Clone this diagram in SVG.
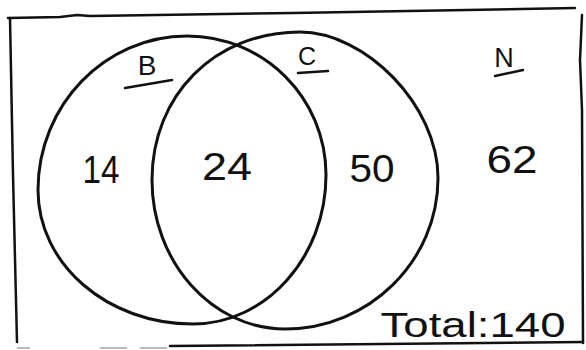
<svg xmlns="http://www.w3.org/2000/svg" width="586" height="350" viewBox="0 0 586 350">
  <style>
    .pen { fill: none; stroke: #111; stroke-width: 3; stroke-linecap: round; stroke-linejoin: round; }
    .frame { fill: none; stroke: #111; stroke-width: 2.5; stroke-linecap: round; stroke-linejoin: round; }
    .faint { fill: none; stroke: #bbb; stroke-width: 2; }
    .lbl { font-family: "Liberation Sans", Arial, sans-serif; fill: #111; text-anchor: middle; }
  </style>
  <rect width="586" height="350" fill="#fff"/>
  <g id="frame">
    <path class="frame" d="M8,18 L60,17 L77,15 L90,16 L293,13 L575,8"/>
    <path class="frame" d="M10,18 L13,175 L17,342"/>
    <path class="frame" d="M582,15 L580,60 L582,110 L583,343"/>
    <path class="frame" d="M170,346 L583,342"/>
    <path class="faint" d="M17,348 H30 M100,348 H127 M140,348 H167"/>
  </g>
  <g id="set-B">
    <path class="pen" d="M187,36 C264,36 326,98 326,175 C326,257 266,324 193,324 C107,324 38,264 38,190 C38,105 105,36 187,36 Z"/>
    <text class="lbl" x="147" y="75" font-size="28">B</text>
    <path class="frame" d="M125,88 L172,80" stroke-width="3"/>
  </g>
  <g id="set-C">
    <path class="pen" d="M300,32 C365,32 438,105 438,178 C438,261 369,329 285,329 C212,329 152,262 152,180 C152,95 215,32 300,32 Z"/>
    <text class="lbl" x="307" y="65" font-size="25">C</text>
    <path class="frame" d="M298,73 L328,71" stroke-width="3"/>
  </g>
  <g id="set-N">
    <text class="lbl" x="504" y="67" font-size="27">N</text>
    <path class="frame" d="M495,76 L523,70" stroke-width="3"/>
  </g>
  <g id="counts">
    <text class="lbl" x="101" y="183" font-size="38" textLength="37" lengthAdjust="spacingAndGlyphs">14</text>
    <text class="lbl" x="227" y="180" font-size="38" textLength="50" lengthAdjust="spacingAndGlyphs">24</text>
    <text class="lbl" x="372" y="182" font-size="38" textLength="45" lengthAdjust="spacingAndGlyphs">50</text>
    <text class="lbl" x="512" y="173" font-size="38" textLength="51" lengthAdjust="spacingAndGlyphs">62</text>
  </g>
  <g id="total">
    <text class="lbl" x="473" y="337" font-size="35" textLength="185" lengthAdjust="spacingAndGlyphs">Total:140</text>
  </g>
</svg>
